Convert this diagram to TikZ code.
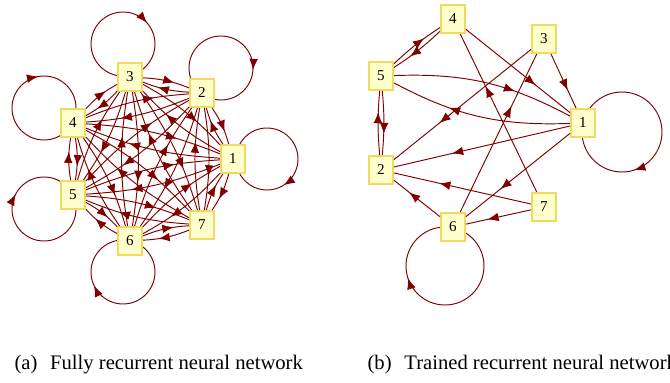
\documentclass[tikz,border=0pt]{standalone}
\usepackage{fontspec}
\setmainfont{Liberation Serif}
\usetikzlibrary{arrows.meta,decorations.markings,backgrounds}
\definecolor{linkred}{RGB}{128,0,0}
\definecolor{boxfill}{RGB}{255,255,204}
\definecolor{boxline}{RGB}{242,218,96}
\begin{document}
\begin{tikzpicture}[x=0.63pt,y=-0.63pt,
  neuron/.style={shape=rectangle,draw=boxline,fill=boxfill,line width=1.2pt,minimum width=15.2pt,minimum height=17.7pt,inner sep=0pt,font=\fontsize{9.5pt}{11pt}\selectfont},
  wire/.style={color=linkred,line width=0.6pt,postaction={decorate}},
  link/.style={wire,decoration={markings,mark=at position 0.67 with {\arrow{Latex[length=7pt,width=5.5pt]}}}},
  selfloop/.style={wire,decoration={markings,mark=at position #1 with {\arrow{Latex[length=7pt,width=5.5pt]}}}},
  caption/.style={anchor=base west,font=\fontsize{13pt}{15pt}\selectfont}]
\def\bend{9}
\def\bendb{5}
\useasboundingbox (0,0) rectangle (670,383);

% (a) fully recurrent
\node[neuron] (a1) at (233,159) {1};
\node[neuron] (a2) at (202,93) {2};
\node[neuron] (a3) at (130,77) {3};
\node[neuron] (a4) at (73,123) {4};
\node[neuron] (a5) at (73,195) {5};
\node[neuron] (a6) at (130,241) {6};
\node[neuron] (a7) at (202,225) {7};

\begin{scope}[on background layer]
\draw[selfloop=0.16] ([shift={(34,0)}]a1.center) circle[radius=31];
\draw[selfloop=0.01] ([shift={(19,-25)}]a2.center) circle[radius=32];
\draw[selfloop=0.885] ([shift={(-7,-33)}]a3.center) circle[radius=32];
\draw[selfloop=0.72] ([shift={(-29,-15)}]a4.center) circle[radius=32];
\draw[selfloop=0.576] ([shift={(-29,14)}]a5.center) circle[radius=32];
\draw[selfloop=0.43] ([shift={(-7,31)}]a6.center) circle[radius=32];
\end{scope}

\draw[link] (a1) to[bend left=\bend] (a2);
\draw[link] (a1) to[bend left=\bend] (a3);
\draw[link] (a1) to[bend left=\bend] (a4);
\draw[link] (a1) to[bend left=\bend] (a5);
\draw[link] (a1) to[bend left=\bend] (a6);
\draw[link] (a1) to[bend left=\bend] (a7);
\draw[link] (a2) to[bend left=\bend] (a1);
\draw[link] (a2) to[bend left=\bend] (a3);
\draw[link] (a2) to[bend left=\bend] (a4);
\draw[link] (a2) to[bend left=\bend] (a5);
\draw[link] (a2) to[bend left=\bend] (a6);
\draw[link] (a2) to[bend left=\bend] (a7);
\draw[link] (a3) to[bend left=\bend] (a1);
\draw[link] (a3) to[bend left=\bend] (a2);
\draw[link] (a3) to[bend left=\bend] (a4);
\draw[link] (a3) to[bend left=\bend] (a5);
\draw[link] (a3) to[bend left=\bend] (a6);
\draw[link] (a3) to[bend left=\bend] (a7);
\draw[link] (a4) to[bend left=\bend] (a1);
\draw[link] (a4) to[bend left=\bend] (a2);
\draw[link] (a4) to[bend left=\bend] (a3);
\draw[link] (a4) to[bend left=\bend] (a5);
\draw[link] (a4) to[bend left=\bend] (a6);
\draw[link] (a4) to[bend left=\bend] (a7);
\draw[link] (a5) to[bend left=\bend] (a1);
\draw[link] (a5) to[bend left=\bend] (a2);
\draw[link] (a5) to[bend left=\bend] (a3);
\draw[link] (a5) to[bend left=\bend] (a4);
\draw[link] (a5) to[bend left=\bend] (a6);
\draw[link] (a5) to[bend left=\bend] (a7);
\draw[link] (a6) to[bend left=\bend] (a1);
\draw[link] (a6) to[bend left=\bend] (a2);
\draw[link] (a6) to[bend left=\bend] (a3);
\draw[link] (a6) to[bend left=\bend] (a4);
\draw[link] (a6) to[bend left=\bend] (a5);
\draw[link] (a6) to[bend left=\bend] (a7);
\draw[link] (a7) to[bend left=\bend] (a1);
\draw[link] (a7) to[bend left=\bend] (a2);
\draw[link] (a7) to[bend left=\bend] (a3);
\draw[link] (a7) to[bend left=\bend] (a4);
\draw[link] (a7) to[bend left=\bend] (a5);
\draw[link] (a7) to[bend left=\bend] (a6);

% (b) trained
\node[neuron] (b1) at (583,123) {1};
\node[neuron] (b2) at (381,170) {2};
\node[neuron] (b3) at (544,39) {3};
\node[neuron] (b4) at (453,19) {4};
\node[neuron] (b5) at (381,76) {5};
\node[neuron] (b6) at (453,227) {6};
\node[neuron] (b7) at (544,207) {7};

\begin{scope}[on background layer]
\draw[selfloop=0.2] ([shift={(39,9)}]b1.center) circle[radius=40];
\draw[selfloop=0.45] ([shift={(-8,39)}]b6.center) circle[radius=39];
\end{scope}

\draw[link] (b5) to[bend left=\bendb] (b4);
\draw[link] (b4) to[bend left=\bendb] (b5);
\draw[link] (b4) -- (b1);
\draw[link] (b7) -- (b4);
\draw[link] (b3) -- (b1);
\draw[link] (b3) -- (b2);
\draw[link] (b6) -- (b3);
\draw[link] (b5) to[bend left=15] (b1);
\draw[link] (b1) to[bend left=15] (b5);
\draw[link] (b1) -- (b2);
\draw[link] (b1) -- (b6);
\draw[link] (b7) -- (b2);
\draw[link] (b7) -- (b6);
\draw[link] (b6) -- (b2);
\draw[link] (b5) to[bend left=\bendb] (b2);
\draw[link] (b2) to[bend left=\bendb] (b5);

\node[caption] (capa) at (9,369) {(a)\hspace{8pt}Fully recurrent neural network};
\node[caption] (capb) at (362,369) {(b)\hspace{8pt}Trained recurrent neural network};
\end{tikzpicture}
\end{document}
